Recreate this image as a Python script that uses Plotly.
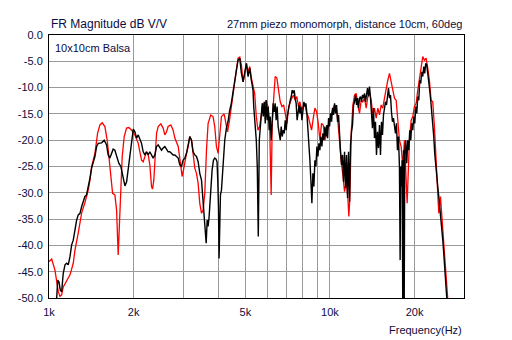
import plotly.graph_objects as go

# ---- data (frequency in Hz, magnitude in dB V/V) ----
red_freq = [1000, 1022, 1050, 1079, 1094, 1109, 1124, 1156, 1188, 1220, 1237, 1271, 1307, 1342, 1379, 1399, 1418, 1457, 1489, 1518,
            1547, 1581, 1611, 1634, 1656, 1684, 1716, 1740, 1763, 1783, 1802, 1822, 1852, 1888, 1925, 1967, 2022, 2078, 2106, 2135,
            2164, 2194, 2224, 2255, 2285, 2317, 2336, 2361, 2381, 2414, 2447, 2500, 2548, 2584, 2620, 2655, 2714, 2766, 2805, 2844,
            2883, 2921, 2945, 2977, 3002, 3043, 3086, 3128, 3170, 3215, 3258, 3303, 3349, 3395, 3441, 3490, 3536, 3585, 3635, 3684,
            3765, 3836, 3890, 3944, 3998, 4053, 4110, 4200, 4260, 4320, 4392, 4452, 4515, 4580, 4642, 4708, 4775, 4840, 4907, 4976,
            5042, 5112, 5183, 5251, 5323, 5396, 5468, 5543, 5620, 5694, 5773, 5853, 5930, 6013, 6096, 6177, 6227, 6300, 6383, 6473,
            6564, 6653, 6746, 6841, 6932, 7030, 7128, 7222, 7319, 7420, 7517, 7621, 7727, 7817, 7926, 8036, 8143, 8257, 8373, 8484,
            8602, 8722, 8839, 8963, 9088, 9207, 9336, 9467, 9592, 9727, 9831, 9968, 10108, 10243, 10384, 10530, 10672, 10818, 10970, 11115,
            11270, 11428, 11580, 11675, 11772, 11909, 12069, 12231, 12402, 12567, 12741, 12919, 13089, 13274, 13460, 13638, 13826, 14020, 14206, 14404,
            14606, 14802, 15008, 15218, 15423, 15633, 15852, 16066, 16287, 16516, 16738, 16967, 17205, 17436, 17673, 17921, 18164, 18413, 18671, 18826,
            19030, 19184, 19454, 19716, 19984, 20265, 20538, 20820, 21112, 21396, 21688, 21993, 22288, 22594, 22911, 23221, 23540, 23870, 24192, 24392,
            24733, 25081, 25412, 25707, 26047, 26400]
red_db = [-43.1, -42.6, -44.7, -48.8, -49.7, -49.4, -47.9, -46.6, -45.6, -43.4, -40.9, -37.6, -33.8, -31.9, -29.5, -27.6, -25.0, -22.5, -18.7, -17.1,
          -16.7, -17.4, -20.0, -23.1, -26.9, -30.1, -30.4, -33.3, -41.8, -36.4, -29.5, -23.1, -19.3, -17.7, -17.6, -18.1, -19.0, -20.6, -22.2, -23.8,
          -24.1, -23.1, -22.2, -22.8, -24.7, -28.8, -29.3, -27.6, -23.1, -18.7, -17.4, -16.9, -17.7, -19.0, -18.4, -17.4, -17.1, -18.1, -19.6, -20.3,
          -21.2, -23.4, -25.0, -26.9, -26.0, -24.1, -22.5, -21.2, -19.3, -20.0, -23.1, -25.3, -26.3, -28.2, -32.0, -33.9, -33.3, -30.1, -21.9, -16.8,
          -15.2, -15.5, -17.4, -21.2, -22.5, -18.1, -15.5, -15.0, -16.8, -18.4, -16.2, -13.6, -11.7, -9.2, -6.7, -4.4, -4.2, -5.7, -8.9, -7.3,
          -5.4, -7.0, -6.0, -8.2, -9.8, -11.1, -15.5, -18.1, -17.4, -14.9, -13.0, -13.6, -12.4, -13.6, -16.2, -30.4, -17.4, -12.4, -7.9, -8.2,
          -11.1, -12.7, -13.6, -13.3, -14.9, -16.8, -13.6, -12.7, -12.0, -11.4, -12.4, -11.7, -13.6, -12.7, -14.3, -13.6, -13.0, -14.9, -15.5, -16.8,
          -18.1, -15.8, -13.9, -14.6, -16.8, -20.0, -16.8, -17.1, -20.0, -18.7, -17.7, -16.5, -15.2, -13.9, -13.3, -13.6, -16.5, -20.9, -24.1, -26.6,
          -29.8, -27.9, -31.0, -34.5, -31.0, -18.4, -13.3, -11.4, -11.1, -13.3, -14.9, -12.4, -12.7, -12.0, -13.9, -11.7, -10.8, -12.4, -15.2, -13.9,
          -15.8, -13.9, -15.2, -13.3, -13.9, -12.0, -10.1, -8.6, -7.3, -8.9, -10.5, -12.0, -12.4, -16.2, -20.0, -21.2, -25.0, -20.0, -27.6, -32.0,
          -25.0, -20.0, -16.2, -15.5, -13.6, -13.0, -10.5, -8.6, -6.0, -4.1, -4.8, -4.4, -6.3, -8.6, -12.4, -12.7, -17.4, -23.8, -29.5, -33.9,
          -30.7, -35.8, -40.2, -44.0, -47.9, -52.0]

black_freq = [1060, 1074, 1085, 1097, 1109, 1124, 1140, 1156, 1171, 1188, 1204, 1220, 1237, 1254, 1271, 1289, 1307, 1324, 1342, 1360,
              1379, 1399, 1418, 1437, 1457, 1477, 1497, 1539, 1572, 1603, 1624, 1647, 1670, 1692, 1716, 1740, 1773, 1802, 1837, 1863,
              1889, 1914, 1941, 1968, 1995, 2022, 2050, 2078, 2106, 2135, 2164, 2194, 2224, 2255, 2285, 2317, 2348, 2381, 2414, 2447,
              2480, 2515, 2548, 2584, 2620, 2655, 2692, 2730, 2766, 2805, 2844, 2883, 2921, 2962, 3002, 3043, 3086, 3128, 3170, 3215,
              3258, 3303, 3349, 3395, 3441, 3490, 3536, 3566, 3596, 3626, 3656, 3684, 3715, 3765, 3806, 3849, 3890, 3932, 3964, 3987,
              4010, 4030, 4053, 4076, 4110, 4165, 4222, 4280, 4337, 4398, 4459, 4519, 4582, 4645, 4708, 4775, 4840, 4907, 4976, 5042,
              5112, 5183, 5251, 5323, 5354, 5412, 5468, 5512, 5558, 5604, 5650, 5694, 5741, 5788, 5836, 5884, 5930, 5979, 6028, 6077,
              6127, 6177, 6227, 6278, 6330, 6383, 6434, 6487, 6540, 6594, 6653, 6707, 6762, 6818, 6874, 6932, 6988, 7047, 7104, 7163,
              7222, 7280, 7340, 7400, 7460, 7517, 7580, 7641, 7703, 7767, 7817, 7880, 7946, 8010, 8078, 8143, 8210, 8277, 8345, 8415,
              8484, 8553, 8623, 8694, 8766, 8839, 8912, 8986, 9059, 9134, 9207, 9283, 9360, 9437, 9514, 9592, 9671, 9751, 9807, 9888,
              9968, 10050, 10133, 10216, 10300, 10384, 10470, 10556, 10642, 10730, 10818, 10907, 10996, 11087, 11178, 11270, 11363, 11456, 11550, 11645,
              11741, 11838, 11935, 12033, 12132, 12231, 12332, 12433, 12536, 12639, 12741, 12846, 12951, 13058, 13165, 13274, 13382, 13492, 13603, 13715,
              13826, 13940, 14055, 14170, 14287, 14404, 14522, 14642, 14762, 14884, 15008, 15130, 15254, 15380, 15506, 15633, 15762, 15891, 16022, 16154,
              16287, 16420, 16555, 16691, 16829, 16967, 17106, 17247, 17388, 17531, 17673, 17775, 17862, 17963, 18066, 18164, 18268, 18374, 18462, 18613,
              18766, 18920, 19076, 19232, 19390, 19550, 19716, 19876, 20040, 20204, 20372, 20538, 20708, 20871, 21043, 21216, 21396, 21570, 21742, 21920,
              22101, 22288, 22466, 22650, 22838, 23026, 23221, 23411, 23598, 23794, 23990, 24192, 24392, 24600, 24802, 25008, 25213, 25412, 25620, 25832,
              26047, 26200]
black_db = [-52.0, -46.6, -46.9, -48.5, -48.8, -45.3, -43.7, -43.4, -43.7, -42.1, -39.9, -39.0, -37.1, -35.2, -34.2, -33.9, -32.6, -31.4, -30.7, -30.4,
            -29.1, -27.2, -25.3, -24.4, -23.1, -21.2, -20.6, -20.5, -20.0, -20.9, -22.8, -23.4, -22.5, -21.7, -21.9, -22.8, -24.4, -25.0, -27.6, -28.7,
            -27.9, -25.3, -23.1, -19.6, -17.9, -18.4, -19.6, -19.0, -20.0, -20.6, -22.2, -22.8, -22.2, -22.8, -22.2, -22.8, -23.4, -22.8, -21.2, -20.9,
            -21.5, -21.9, -21.5, -21.2, -21.7, -22.2, -22.2, -22.5, -22.8, -22.8, -23.1, -23.4, -24.7, -25.0, -23.8, -23.4, -22.5, -20.9, -19.3, -20.0,
            -22.2, -22.8, -23.1, -24.1, -26.3, -27.6, -32.0, -35.2, -38.3, -39.6, -35.2, -36.4, -34.5, -28.8, -25.7, -23.8, -23.4, -23.6, -24.1, -27.6,
            -32.6, -42.5, -33.9, -30.4, -29.5, -25.0, -20.0, -17.7, -16.5, -14.3, -12.9, -10.8, -8.9, -6.3, -4.8, -4.4, -7.3, -8.9, -6.7, -5.4,
            -7.9, -6.3, -8.6, -10.5, -13.6, -16.2, -20.0, -25.0, -38.3, -20.0, -18.1, -16.2, -13.0, -15.5, -12.7, -16.8, -12.4, -16.2, -13.6, -18.1,
            -15.5, -20.0, -14.9, -13.0, -14.6, -13.0, -16.2, -13.6, -17.4, -18.7, -20.0, -17.4, -19.3, -18.1, -18.7, -16.2, -18.1, -15.5, -14.3, -13.0,
            -12.4, -11.7, -10.5, -11.1, -10.5, -12.0, -13.0, -16.2, -14.3, -13.3, -14.9, -13.6, -16.2, -13.6, -12.7, -13.6, -13.0, -14.9, -17.4, -20.0,
            -23.8, -27.6, -32.0, -26.3, -28.8, -23.8, -25.0, -21.2, -23.1, -20.6, -21.9, -19.3, -21.2, -18.7, -20.0, -17.4, -19.3, -17.1, -19.6, -15.8,
            -17.4, -14.9, -16.5, -13.9, -15.2, -13.0, -14.9, -13.3, -16.5, -15.2, -19.6, -22.2, -24.7, -22.8, -27.9, -22.2, -29.1, -22.8, -31.0, -22.2,
            -31.7, -20.9, -18.4, -17.1, -13.3, -12.7, -11.4, -13.3, -12.0, -13.9, -12.0, -11.7, -12.7, -11.4, -12.0, -11.1, -12.7, -11.4, -10.1, -11.7,
            -9.8, -12.0, -15.2, -17.7, -13.9, -19.6, -16.5, -22.8, -18.4, -21.5, -17.1, -22.8, -16.5, -19.0, -15.2, -13.9, -12.7, -13.3, -10.8, -10.1,
            -12.0, -11.4, -14.6, -16.5, -15.8, -17.1, -18.7, -16.8, -21.9, -19.3, -25.0, -42.8, -25.0, -28.8, -23.8, -52.0, -21.9, -52.0, -22.5, -20.0,
            -24.4, -20.0, -21.9, -18.1, -20.0, -16.8, -18.1, -15.5, -16.8, -13.6, -14.9, -11.7, -12.4, -8.6, -9.2, -7.0, -7.9, -6.0, -7.3, -5.4,
            -5.7, -7.3, -8.6, -10.5, -12.4, -14.3, -16.8, -19.3, -22.5, -25.0, -27.6, -28.8, -30.7, -32.6, -34.5, -36.4, -39.0, -41.5, -44.7, -47.2,
            -50.1, -52.0]

x_tick_vals = [1000, 2000, 5000, 10000, 20000]
x_tick_text = ["1k", "2k", "5k", "10k", "20k"]
x_minor_vals = [3000, 4000, 6000, 7000, 8000, 9000]
y_tick_vals = [0, -5, -10, -15, -20, -25, -30, -35, -40, -45, -50]
y_tick_text = ["0.0", "-5.0", "-10.0", "-15.0", "-20.0", "-25.0", "-30.0", "-35.0", "-40.0", "-45.0", "-50.0"]

FONT = "Liberation Sans, Arial, sans-serif"
TXT = "#0c0c40"
GRID = "#9a9a9a"

fig = go.Figure()
fig.add_trace(go.Scatter(x=red_freq, y=red_db, mode="lines",
                         line=dict(color="#ff0000", width=1.3), showlegend=False))
fig.add_trace(go.Scatter(x=black_freq, y=black_db, mode="lines",
                         line=dict(color="#000000", width=1.4), showlegend=False))

fig.update_layout(
    width=512, height=340,
    margin=dict(l=49, r=48, t=35, b=42),
    paper_bgcolor="white", plot_bgcolor="white",
    font=dict(family=FONT, size=11, color=TXT),
    xaxis=dict(type="log", range=[3, 4.4771], tickvals=x_tick_vals, ticktext=x_tick_text,
               showgrid=True, gridcolor=GRID, gridwidth=1, ticks="", zeroline=False,
               showline=True, linecolor="black", linewidth=1, mirror=True,
               minor=dict(tickvals=x_minor_vals, showgrid=True, gridcolor=GRID, gridwidth=1, ticks=""),
               tickfont=dict(size=11, color=TXT), ticklabelstandoff=4),
    yaxis=dict(range=[-50, 0], tickvals=y_tick_vals, ticktext=y_tick_text,
               showgrid=True, gridcolor=GRID, gridwidth=1, ticks="", zeroline=False,
               showline=True, linecolor="black", linewidth=1, mirror=True,
               tickfont=dict(size=11, color=TXT), ticklabelstandoff=3),
    annotations=[
        dict(text="FR Magnitude dB V/V", xref="paper", yref="paper", x=0, y=1.040,
             xanchor="left", yanchor="middle", showarrow=False, font=dict(size=12, color=TXT)),
        dict(text="27mm piezo monomorph, distance 10cm, 60deg", xref="paper", yref="paper", x=1, y=1.040,
             xanchor="right", yanchor="middle", showarrow=False, font=dict(size=11, color=TXT)),
        dict(text="10x10cm Balsa", xref="paper", yref="paper", x=0.0096, y=0.949,
             xanchor="left", yanchor="middle", showarrow=False, font=dict(size=11, color=TXT)),
        dict(text="Frequency(Hz)", xref="paper", yref="paper", x=1, y=-0.1217,
             xanchor="right", yanchor="middle", showarrow=False, font=dict(size=11, color=TXT)),
    ],
)

fig.write_html("out.html")
